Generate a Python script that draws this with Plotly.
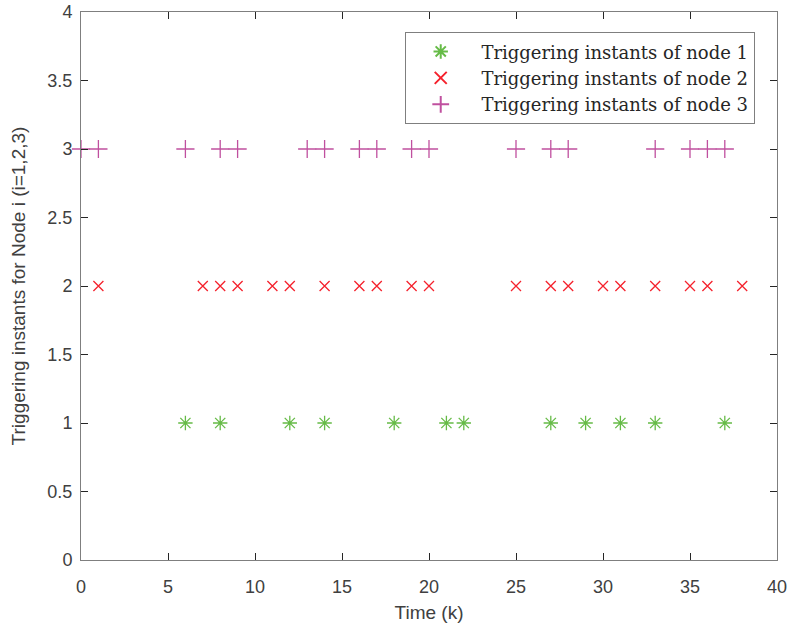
import plotly.graph_objects as go

node1_t = [6, 8, 12, 14, 18, 21, 22, 27, 29, 31, 33, 37]
node2_t = [1, 7, 8, 9, 11, 12, 14, 16, 17, 19, 20, 25, 27, 28, 30, 31, 33, 35, 36, 38]
node3_t = [0, 1, 6, 8, 9, 13, 14, 16, 17, 19, 20, 25, 27, 28, 33, 35, 36, 37]
node_levels = [1, 2, 3]
names = ["Triggering instants of node 1", "Triggering instants of node 2", "Triggering instants of node 3"]
x_ticks = [0, 5, 10, 15, 20, 25, 30, 35, 40]
y_ticks = [0, 0.5, 1, 1.5, 2, 2.5, 3, 3.5, 4]
y_tick_labels = ["0", "0.5", "1", "1.5", "2", "2.5", "3", "3.5", "4"]

colors = ["#66BB47", "#F5222D", "#C0509F"]
symbols = ["asterisk-open", "x-thin-open", "cross-thin-open"]
sizes = [12, 10, 13]

fig = go.Figure()
for t, lvl, nm, c, s, sz in zip([node1_t, node2_t, node3_t], node_levels, names, colors, symbols, sizes):
    fig.add_trace(go.Scatter(
        x=t, y=[lvl] * len(t), mode="markers", name="\u00a0" + nm, cliponaxis=False,
        marker=dict(symbol=s, size=sz, color=c, line=dict(color=c, width=1.3)),
    ))

sans = "Liberation Sans, Arial"
axis_common = dict(
    showgrid=False, zeroline=False, showline=True, mirror="ticks", automargin=False,
    linecolor="#7f7f7f", linewidth=1, ticks="inside", ticklen=7,
    tickcolor="#262626", tickfont=dict(family=sans, size=18, color="#404040"),
)
fig.update_layout(
    width=790, height=635,
    margin=dict(l=81, r=13, t=12, b=75),
    plot_bgcolor="white", paper_bgcolor="white",
    xaxis=dict(range=[0, 40], tickvals=x_ticks, ticklabelstandoff=10,
               title=dict(text="Time (k)", font=dict(family=sans, size=19, color="#404040"), standoff=10), **axis_common),
    yaxis=dict(range=[0, 4], tickvals=y_ticks, ticktext=y_tick_labels, ticklabelstandoff=4,
               title=dict(text="Triggering instants for Node i (i=1,2,3)", font=dict(family=sans, size=19, color="#404040"), standoff=16), **axis_common),
    legend=dict(
        x=0.968, y=0.963, xanchor="right", yanchor="top",
        bgcolor="white", bordercolor="#7f7f7f", borderwidth=1,
        font=dict(family="DejaVu Serif, Liberation Serif, serif", size=18, color="#262626"),
        itemsizing="constant", tracegroupgap=0, itemwidth=60,
    ),
    showlegend=True,
)
fig.write_html("out.html", config={"displayModeBar": False},
               post_script="document.body.style.margin='0';")
